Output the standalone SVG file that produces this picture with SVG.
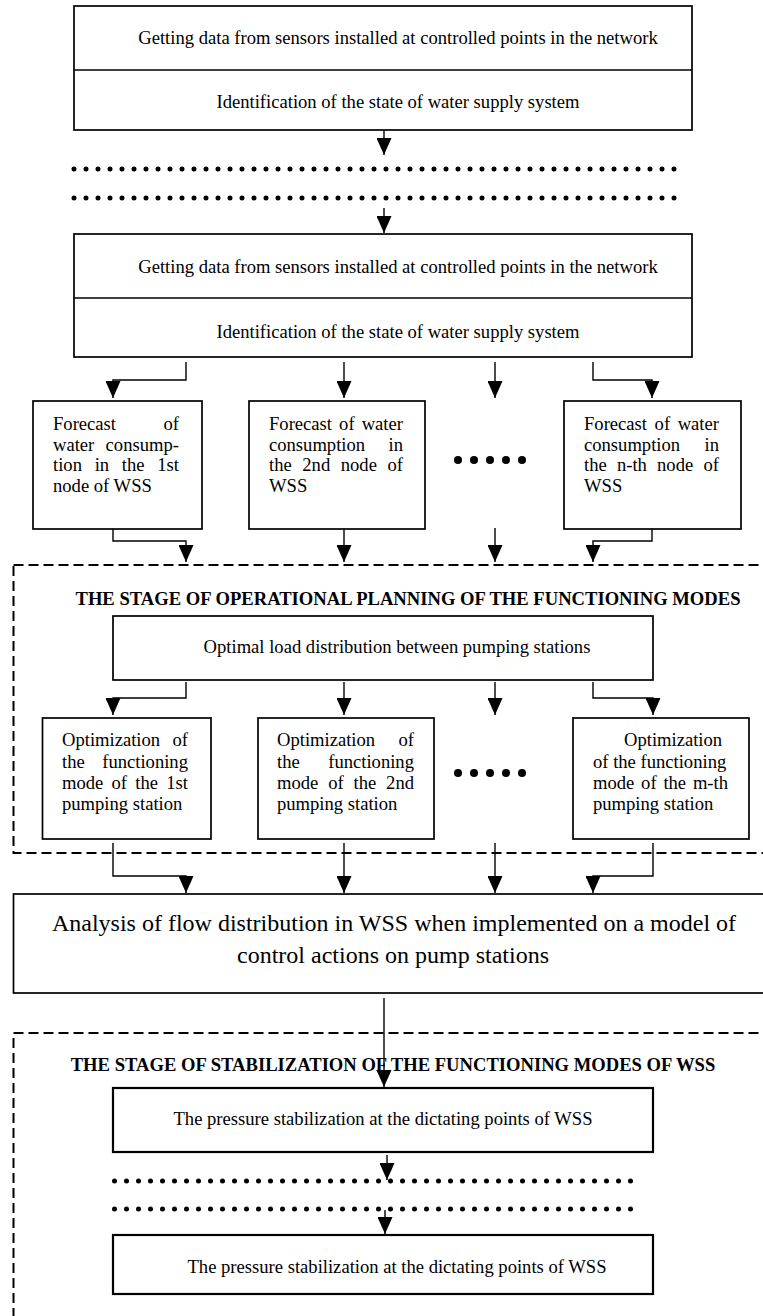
<svg xmlns="http://www.w3.org/2000/svg" width="763" height="1316" viewBox="0 0 763 1316">
<defs>
<style>
.box{fill:#fff;stroke:#000;stroke-width:1.7}
.thick{stroke-width:2.2}
.t{font-family:"Liberation Serif","Times New Roman",serif;font-size:18.6px;fill:#000}
.c{text-anchor:middle}
.b{font-weight:bold}
.big{font-size:24px}
.conn{fill:none;stroke:#000;stroke-width:1.4;marker-end:url(#ah)}
.frame{fill:none;stroke:#000;stroke-width:2;stroke-dasharray:10 5}
.dots{stroke:#000;stroke-width:5;stroke-linecap:round;stroke-dasharray:0 12;fill:none}
</style>
<marker id="ah" markerUnits="userSpaceOnUse" markerWidth="17" markerHeight="15" viewBox="0 0 17 15" refX="17" refY="7.5" orient="auto">
<path d="M0,0 L17,7.5 L0,15 z" fill="#000"/>
</marker>
</defs>
<rect width="763" height="1316" fill="#fff"/>

<g id="frames">
<rect class="frame" x="13.5" y="565" width="790" height="288"/>
<rect class="frame" x="13.5" y="1033" width="790" height="320"/>
</g>

<g id="decor">
<line class="dots" x1="74" y1="169" x2="686" y2="169"/>
<line class="dots" x1="74" y1="198" x2="686" y2="198"/>
<g fill="#000">
<circle cx="458" cy="460" r="4"/><circle cx="474" cy="460" r="4"/><circle cx="490" cy="460" r="4"/><circle cx="506" cy="460" r="4"/><circle cx="522" cy="460" r="4"/>
<circle cx="458" cy="773" r="4"/><circle cx="474" cy="773" r="4"/><circle cx="490" cy="773" r="4"/><circle cx="506" cy="773" r="4"/><circle cx="522" cy="773" r="4"/>
</g>
<line class="dots" x1="114.5" y1="1181" x2="642.5" y2="1181"/>
<line class="dots" x1="114.5" y1="1209" x2="642.5" y2="1209"/>
</g>

<g id="top1">
<rect class="box" x="74" y="6" width="618" height="124"/>
<line x1="74" y1="70" x2="692" y2="70" stroke="#000" stroke-width="1.7"/>
<text class="t c" x="398" y="44">Getting data from sensors installed at controlled points in the network</text>
<text class="t c" x="398" y="108">Identification of the state of water supply system</text>
</g>

<g id="top2">
<rect class="box" x="74" y="234" width="618" height="123"/>
<line x1="74" y1="298" x2="692" y2="298" stroke="#000" stroke-width="1.7"/>
<text class="t c" x="398" y="272.5">Getting data from sensors installed at controlled points in the network</text>
<text class="t c" x="398" y="337.5">Identification of the state of water supply system</text>
</g>

<g id="forecast1">
<rect class="box" x="33" y="401" width="169" height="128"/>
<text class="t" x="53" y="429.5" word-spacing="42.85">Forecast of</text>
<text class="t" x="53" y="450.5" word-spacing="6.65">water consump-</text>
<text class="t" x="53" y="471" word-spacing="8.08">tion in the 1st</text>
<text class="t" x="53" y="491.5">node of WSS</text>
</g>

<g id="forecast2">
<rect class="box" x="249" y="401" width="176" height="128"/>
<text class="t" x="269" y="429.5" word-spacing="2.45">Forecast of water</text>
<text class="t" x="269" y="450.5" word-spacing="18.75">consumption in</text>
<text class="t" x="269" y="471" word-spacing="5.92">the 2nd node of</text>
<text class="t" x="269" y="491.5">WSS</text>
</g>

<g id="forecastN">
<rect class="box" x="564" y="401" width="177" height="128"/>
<text class="t" x="584" y="429.5" word-spacing="2.95">Forecast of water</text>
<text class="t" x="584" y="450.5" word-spacing="19.75">consumption in</text>
<text class="t" x="584" y="471" word-spacing="5.55">the n-th node of</text>
<text class="t" x="584" y="491.5">WSS</text>
</g>

<g id="planning-title">
<text class="t c b" x="408" y="605">THE STAGE OF OPERATIONAL PLANNING OF THE FUNCTIONING MODES</text>
</g>

<g id="optimal-load">
<rect class="box" x="113" y="616" width="540" height="64"/>
<text class="t c" x="397" y="653">Optimal load distribution between pumping stations</text>
</g>

<g id="opt1">
<rect class="box" x="42.5" y="718" width="168.5" height="121"/>
<text class="t" x="62" y="746" word-spacing="7.65">Optimization of</text>
<text class="t" x="62" y="767.5" word-spacing="12.85">the functioning</text>
<text class="t" x="62" y="789" word-spacing="3.62">mode of the 1st</text>
<text class="t" x="62" y="810">pumping station</text>
</g>

<g id="opt2">
<rect class="box" x="258" y="718" width="176" height="121"/>
<text class="t" x="277" y="746" word-spacing="18.65">Optimization of</text>
<text class="t" x="277" y="767.5" word-spacing="23.85">the functioning</text>
<text class="t" x="277" y="789" word-spacing="5.22">mode of the 2nd</text>
<text class="t" x="277" y="810">pumping station</text>
</g>

<g id="optM">
<rect class="box" x="573" y="718" width="176" height="121"/>
<text class="t" x="624" y="746">Optimization</text>
<text class="t" x="593" y="767.5">of the functioning</text>
<text class="t" x="593" y="789" word-spacing="2.15">mode of the m-th</text>
<text class="t" x="593" y="810">pumping station</text>
</g>

<g id="analysis">
<rect class="box" x="13.5" y="894" width="790" height="99"/>
<text class="t c big" x="394" y="930.5">Analysis of flow distribution in WSS when implemented on a model of</text>
<text class="t c big" x="393" y="963">control actions on pump stations</text>
</g>

<g id="stabilization-title">
<text class="t c b" x="393" y="1071">THE STAGE OF STABILIZATION OF THE FUNCTIONING MODES OF WSS</text>
</g>

<g id="pressure1">
<rect class="box thick" x="113" y="1088" width="540" height="64"/>
<text class="t c" x="383" y="1125">The pressure stabilization at the dictating points of WSS</text>
</g>

<g id="pressure2">
<rect class="box thick" x="113" y="1235" width="540" height="59"/>
<text class="t c" x="397" y="1272.5">The pressure stabilization at the dictating points of WSS</text>
</g>

<g id="connectors">
<path class="conn" d="M384,130 V155"/>
<path class="conn" d="M384,208 V233"/>
<path class="conn" d="M186,362 V380 H113 V398"/>
<path class="conn" d="M344,362 V398"/>
<path class="conn" d="M495,362 V398"/>
<path class="conn" d="M593,362 V380 H652 V398"/>
<path class="conn" d="M113,529 V541 H186 V562"/>
<path class="conn" d="M344,529 V562"/>
<path class="conn" d="M495,528 V562"/>
<path class="conn" d="M652,529 V541 H593 V562"/>
<path class="conn" d="M186,682 V698 H113 V715"/>
<path class="conn" d="M344,682 V715"/>
<path class="conn" d="M495,682 V715"/>
<path class="conn" d="M593,682 V698 H653 V715"/>
<path class="conn" d="M113,843 V876 H186 V893"/>
<path class="conn" d="M344,843 V893"/>
<path class="conn" d="M495,843 V893"/>
<path class="conn" d="M653,843 V876 H593 V893"/>
<path class="conn" d="M384,998 V1087"/>
<path class="conn" d="M387,1155 V1180"/>
<path class="conn" d="M385,1210 V1234"/>
</g>
</svg>
